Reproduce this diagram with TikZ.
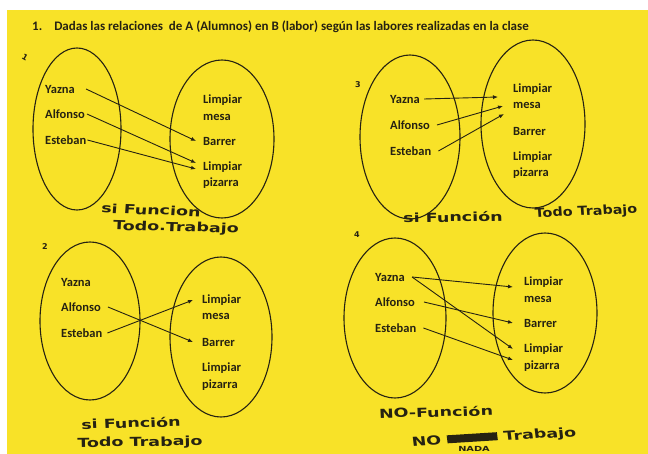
\documentclass[tikz,border=0pt]{standalone}
\usepackage{fontspec}
\setmainfont{Carlito}
\newfontfamily\hand{DejaVu Sans}
\usetikzlibrary{arrows.meta}
\definecolor{paper}{RGB}{248,226,40}
\definecolor{ink}{RGB}{38,34,18}

\begin{document}
\begin{tikzpicture}[x=1pt,y=-1pt,
    lbl/.style={anchor=west,inner sep=0pt,align=left,text=ink,
      font=\bfseries\fontsize{12.5}{16.5}\selectfont},
    rel/.style={-{Latex[length=5pt,width=4pt]},line width=0.9pt,ink},
    set/.style={draw=ink,line width=1.1pt},
    hw/.style={inner sep=0pt,text=ink,xscale=1.4,font=\hand\bfseries\fontsize{12.5}{13}\selectfont},
    num/.style={inner sep=0pt,text=ink,font=\hand\bfseries\fontsize{8}{8}\selectfont}]
    \useasboundingbox (0,0) rectangle (648,454);
    \fill[white] (0,0) rectangle (648,454);
    \fill[paper] (7,10) rectangle (648,454);

    \node[lbl,font=\bfseries\fontsize{13}{15}\selectfont] at (32,27) (title)
        {1.\hspace{12pt}Dadas las relaciones\ \ de A (Alumnos) en B (labor) según las labores realizadas en la clase};

    % 1
    \node[num,rotate=-30] at (25,57) (n1) {1};
    \draw[set] (77,129) ellipse [x radius=44, y radius=81];
    \draw[set] (222,139) ellipse [x radius=52, y radius=79];
    \node[lbl] at (45,89) (y1) {Yazna};
    \node[lbl] at (45,114) (a1) {Alfonso};
    \node[lbl] at (45,140) (e1) {Esteban};
    \node[lbl] at (203,107.5) (m1) {Limpiar\\mesa};
    \node[lbl] at (203,141) (b1) {Barrer};
    \node[lbl] at (203,175) (p1) {Limpiar\\pizarra};
    \draw[rel] ([xshift=11pt]y1.east) -- ([xshift=-7pt]b1.west);
    \draw[rel] ([xshift=2pt]a1.east) -- ([xshift=-7pt,yshift=12pt]p1.west);
    \draw[rel] ([xshift=1pt]e1.east) -- ([xshift=-7pt,yshift=6pt]p1.west);
    \node[hw,rotate=-3] at (151,210) (f1) {si Funcion};
    \node[hw,rotate=-2] at (176,228) (t1) {Todo.Trabajo};

    % 3
    \node[num] at (358,85) (n3) {3};
    \draw[set] (410,137) ellipse [x radius=50, y radius=82];
    \draw[set] (533,124) ellipse [x radius=52, y radius=84];
    \node[lbl] at (390,99) (y3) {Yazna};
    \node[lbl] at (390,125) (a3) {Alfonso};
    \node[lbl] at (390,151) (e3) {Esteban};
    \node[lbl] at (513,96) (m3) {Limpiar\\mesa};
    \node[lbl] at (513,131) (b3) {Barrer};
    \node[lbl] at (513,165) (p3) {Limpiar\\pizarra};
    \draw[rel] ([xshift=4pt]y3.east) -- ([xshift=-15pt,yshift=-1pt]m3.west);
    \draw[rel] ([xshift=7pt]a3.east) -- ([xshift=-10pt,yshift=-10pt]m3.west);
    \draw[rel] ([xshift=7pt]e3.east) -- ([xshift=-9pt,yshift=-18pt]m3.west);
    \node[hw,rotate=1] at (453,217) (f3) {si Función};
    \node[hw,rotate=3,xscale=0.82] at (586,212) (t3) {Todo Trabajo};

    % 2
    \node[num] at (45,247) (n2) {2};
    \draw[set] (90,321) ellipse [x radius=50, y radius=79];
    \draw[set] (221,337) ellipse [x radius=51, y radius=80];
    \node[lbl] at (61,282) (y2) {Yazna};
    \node[lbl] at (61,307) (a2) {Alfonso};
    \node[lbl] at (61,333) (e2) {Esteban};
    \node[lbl] at (202,307) (m2) {Limpiar\\mesa};
    \node[lbl] at (202,342) (b2) {Barrer};
    \node[lbl] at (202,376.5) (p2) {Limpiar\\pizarra};
    \draw[rel] ([xshift=7pt]a2.east) -- ([xshift=-9pt]b2.west);
    \draw[rel] ([xshift=5pt]e2.east) -- ([xshift=-9pt,yshift=7pt]m2.west);
    \node[hw,rotate=2] at (131,423) (f2) {si Función};
    \node[hw,rotate=1] at (140,443) (t2) {Todo Trabajo};

    % 4
    \node[num] at (357,235) (n4) {4};
    \draw[set] (395,318) ellipse [x radius=51, y radius=80];
    \draw[set] (545,313) ellipse [x radius=52, y radius=80];
    \node[lbl] at (375,277) (y4) {Yazna};
    \node[lbl] at (375,302) (a4) {Alfonso};
    \node[lbl] at (375,328) (e4) {Esteban};
    \node[lbl] at (524,289.5) (m4) {Limpiar\\mesa};
    \node[lbl] at (524,323) (b4) {Barrer};
    \node[lbl] at (524,357.5) (p4) {Limpiar\\pizarra};
    \draw[rel] ([xshift=7pt]y4.east) -- ([xshift=-11pt,yshift=2.5pt]m4.west);
    \draw[rel] ([xshift=7pt]y4.east) -- ([xshift=-11pt,yshift=8.5pt]p4.west);
    \draw[rel] ([xshift=9pt]a4.east) -- ([xshift=-11pt]b4.west);
    \draw[rel] ([xshift=7pt]e4.east) -- ([xshift=-11pt,yshift=-2.5pt]p4.west);
    \node[hw,rotate=2] at (436,412) (f4) {NO-Función};
    \node[hw,rotate=5] at (494,438) (t4) {NO \raisebox{1pt}{\rule{36pt}{8pt}} Trabajo};
    \node[hw,font=\hand\bfseries\fontsize{7}{7}\selectfont] at (474,449) (x4) {NADA};
\end{tikzpicture}
\end{document}
